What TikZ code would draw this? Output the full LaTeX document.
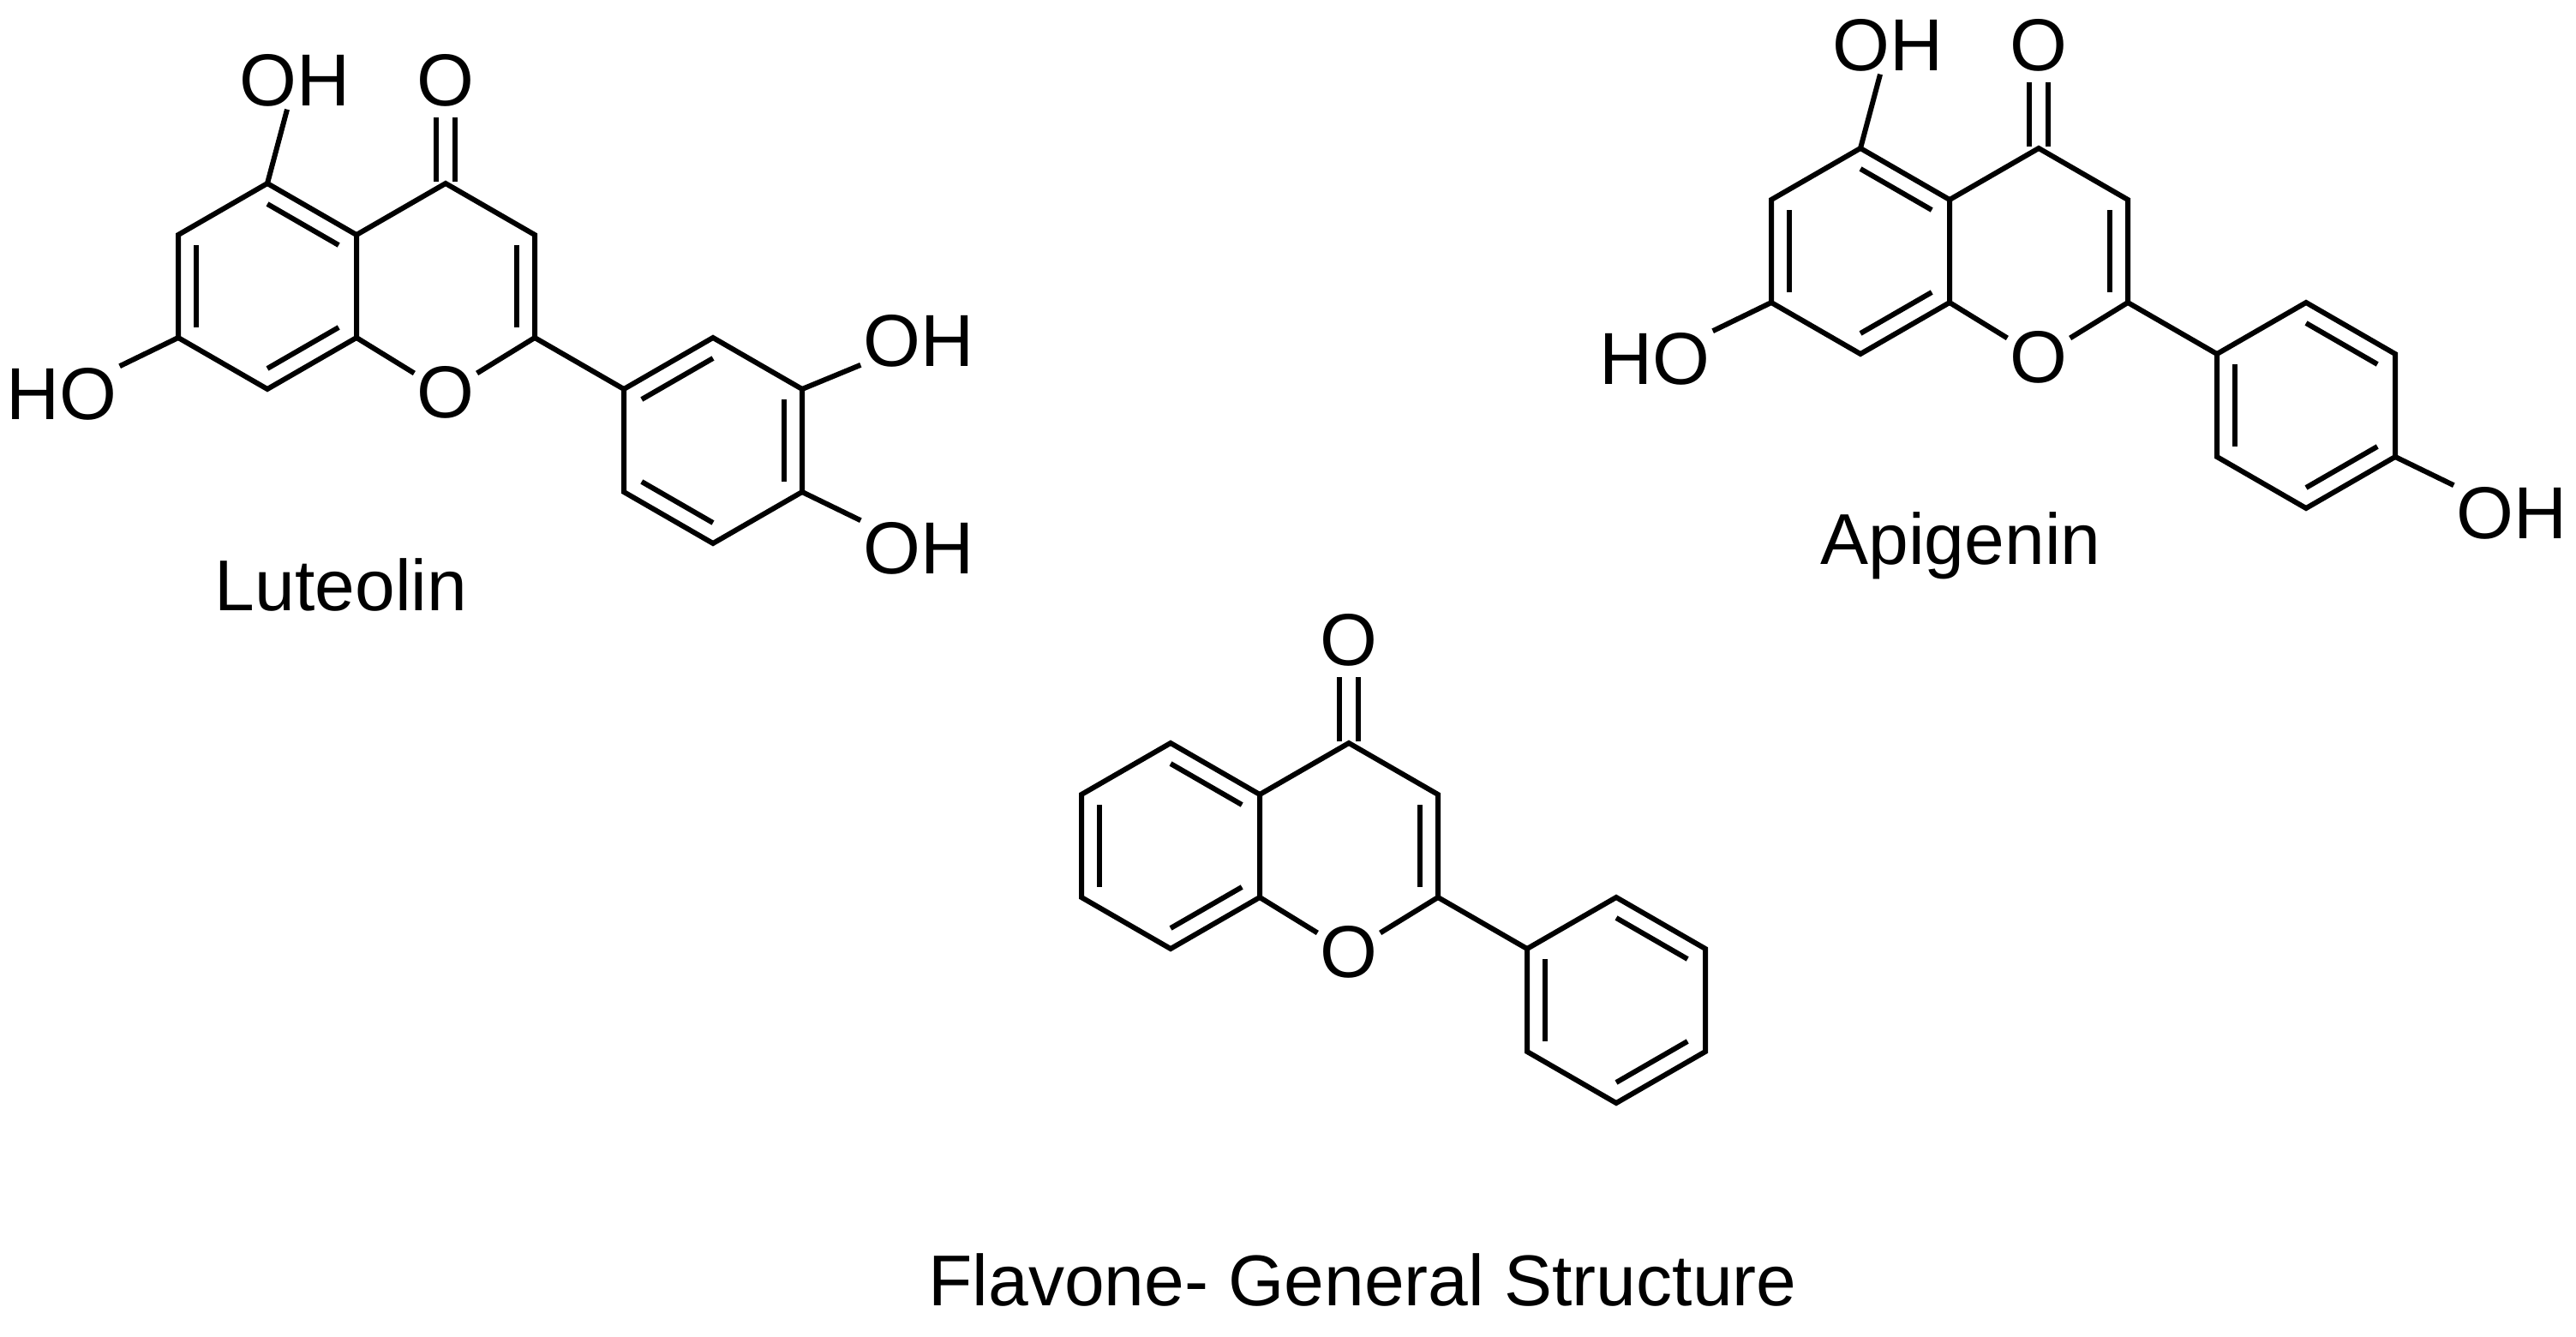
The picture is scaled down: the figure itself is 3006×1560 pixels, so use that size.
\documentclass[tikz,border=0pt]{standalone}
\usepackage{fontspec}
\setmainfont{Liberation Sans}
\usetikzlibrary{calc}
\tikzset{bond/.style={line width=6pt,line cap=butt,line join=miter},
 atom/.style={inner sep=3pt,font=\fontsize{86}{100}\selectfont},
 lbl/.style={inner sep=0pt,font=\fontsize{84}{100}\selectfont}}
\newcommand\flavcore[1]{%
 \coordinate (#1a) at (0,0);
 \coordinate (#1c5) at (-104,-60);
 \coordinate (#1c6) at (-208,0);
 \coordinate (#1c7) at (-208,120);
 \coordinate (#1c8) at (-104,180);
 \coordinate (#1b) at (0,120);
 \coordinate (#1c4) at (104,-60);
 \coordinate (#1c3) at (208,0);
 \coordinate (#1c2) at (208,120);
 \coordinate (#1p1) at (312,180);
 \coordinate (#1p2) at (416,120);
 \coordinate (#1p3) at (520,180);
 \coordinate (#1p4) at (520,300);
 \coordinate (#1p5) at (416,360);
 \coordinate (#1p6) at (312,300);
 \coordinate (#1ca) at (-104,60);
 \coordinate (#1cc) at (104,60);
 \coordinate (#1cb) at (416,240);
 \node[atom] (#1o1) at (104,184) {O};
 \draw[bond] (#1c5)--(#1c6)--(#1c7)--(#1c8)--(#1b)--(#1a)--cycle;
 \draw[bond] (#1a)--(#1c4)--(#1c3)--(#1c2);
 \draw[bond] (#1b)--(#1o1)--(#1c2);
 \draw[bond] (#1c2)--(#1p1);
 \draw[bond] (#1p1)--(#1p2)--(#1p3)--(#1p4)--(#1p5)--(#1p6)--cycle;
 \draw[bond] ($(#1c5)!0.2!(#1ca)$)--($(#1a)!0.2!(#1ca)$);
 \draw[bond] ($(#1c6)!0.2!(#1ca)$)--($(#1c7)!0.2!(#1ca)$);
 \draw[bond] ($(#1c8)!0.2!(#1ca)$)--($(#1b)!0.2!(#1ca)$);
 \draw[bond] ($(#1c3)!0.2!(#1cc)$)--($(#1c2)!0.2!(#1cc)$);
 \draw[bond] (93,-62)--(93,-137);
 \draw[bond] (115,-62)--(115,-137);
 \node[atom] at (104,-180) {O};
}
\newcommand\inb[3]{\draw[bond] ($(#1#2)!0.2!(#1cb)$)--($(#1#3)!0.2!(#1cb)$);}
\begin{document}
\begin{tikzpicture}[x=1pt,y=-1pt]
\useasboundingbox (0,0) rectangle (3006,1560);
% Luteolin
\begin{scope}[shift={(416,274)}]
 \flavcore{L}
 \inb{L}{p1}{p2}\inb{L}{p3}{p4}\inb{L}{p5}{p6}
 \node[atom] (Loh5) at (-72,-180) {OH};
 \draw[bond] (Lc5)--(Loh5);
 \node[atom] (Lho7) at (-344,186) {HO};
 \draw[bond] (Lc7)--(Lho7);
 \node[atom] (Loh3) at (656,124) {OH};
 \draw[bond] (Lp3)--(Loh3);
 \node[atom] (Loh4) at (656,366) {OH};
 \draw[bond] (Lp4)--(Loh4);
 \node[lbl] at (-18,408) {Luteolin};
\end{scope}
% Apigenin
\begin{scope}[shift={(2275,233)}]
 \flavcore{A}
 \inb{A}{p2}{p3}\inb{A}{p1}{p6}\inb{A}{p4}{p5}
 \node[atom] (Aoh5) at (-72,-180) {OH};
 \draw[bond] (Ac5)--(Aoh5);
 \node[atom] (Aho7) at (-344,186) {HO};
 \draw[bond] (Ac7)--(Aho7);
 \node[atom] (Aoh4) at (656,366) {OH};
 \draw[bond] (Ap4)--(Aoh4);
 \node[lbl] at (13,404) {Apigenin};
\end{scope}
% Flavone
\begin{scope}[shift={(1470,927)}]
 \flavcore{F}
 \inb{F}{p2}{p3}\inb{F}{p1}{p6}\inb{F}{p4}{p5}
 \node[lbl] at (120,566) {Flavone- General Structure};
\end{scope}
\end{tikzpicture}
\end{document}
